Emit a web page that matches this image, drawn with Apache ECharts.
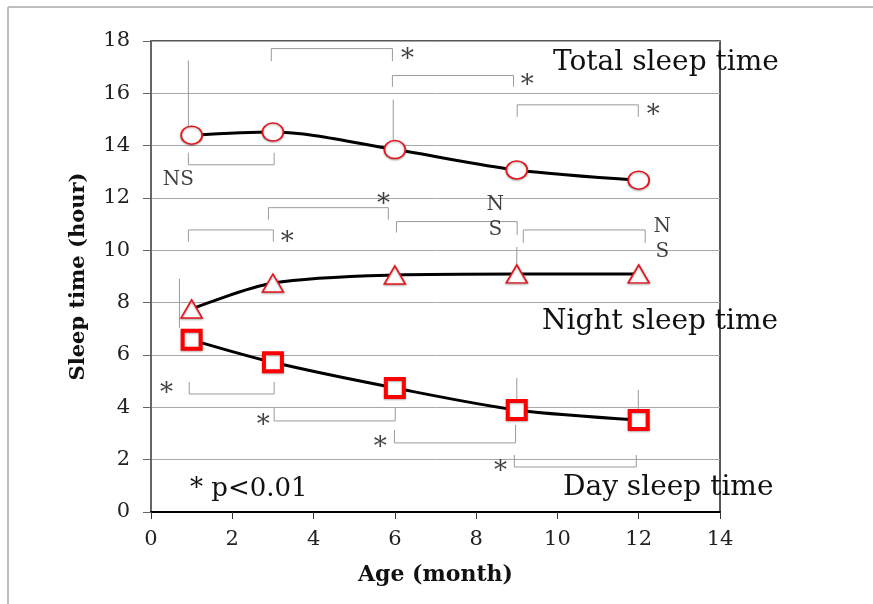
<!DOCTYPE html>
<html>
<head>
<meta charset="utf-8">
<title>Sleep time</title>
<script src="https://cdn.jsdelivr.net/npm/echarts@6/dist/echarts.min.js"></script>
<style>
* { margin:0; padding:0; }
body { background:#fff; }
#main { width:873px; height:604px; }
</style>
</head>
<body>
<div id="main"></div>
<script>
// ages (month) and mean sleep times (hour)
var ages = [1, 3, 6, 9, 12];
var totalSleep = [14.4, 14.52, 13.85, 13.07, 12.68];
var nightSleep = [7.76, 8.75, 9.06, 9.1, 9.1];
var daySleep = [6.58, 5.72, 4.74, 3.9, 3.52];

// significance brackets: [x1, x2, yBar, yEnd1, yEnd2]
var brackets = [
    [0.92, 3.03, 13.27, 13.73, 13.73],
    [2.96, 5.94, 17.71, 17.23, 17.23],
    [5.94, 8.92, 16.68, 16.25, 16.25],
    [9.01, 11.99, 15.56, 15.1, 15.1],
    [0.92, 3.01, 10.78, 10.33, 10.33],
    [2.89, 5.84, 11.63, 11.17, 11.17],
    [6.04, 9.01, 11.1, 10.68, 10.6],
    [9.16, 12.16, 10.78, 10.29, 10.29],
    [0.94, 3.03, 4.51, 4.97, 4.97],
    [3.03, 6.01, 3.48, 3.98, 3.98],
    [5.99, 8.97, 2.64, 3.14, 3.33],
    [8.94, 11.94, 1.72, 2.18, 2.18]
];
// single vertical guide lines: [x, yTop, yBottom]
var guides = [
    [0.92, 17.25, 14.57],
    [5.96, 15.76, 14.23],
    [9.0, 10.13, 9.45],
    [0.7, 8.91, 7.04],
    [9.0, 5.12, 4.28],
    [11.99, 4.67, 3.9]
];
// significance marks: [x, y, text]
var marks = [
    [0.67, 12.7, 'NS'],
    [6.31, 17.55, '*'],
    [9.26, 16.52, '*'],
    [12.36, 15.41, '*'],
    [5.72, 12.0, '*'],
    [3.35, 10.55, '*'],
    [8.47, 11.74, 'N'],
    [8.47, 10.78, 'S'],
    [12.58, 10.9, 'N'],
    [12.58, 9.94, 'S'],
    [0.38, 4.78, '*'],
    [2.76, 3.56, '*'],
    [5.64, 2.72, '*'],
    [8.6, 1.8, '*']
];

var serif = '"DejaVu Serif", "Liberation Serif", serif';
var red = '#e8141c';

function pairs(ys) {
    return ages.map(function (a, i) { return [a, ys[i]]; });
}

var series = [];

brackets.forEach(function (b) {
    series.push({
        type: 'line', symbol: 'none', silent: true, z: 1,
        lineStyle: { color: '#9a9a9a', width: 1 },
        data: [[b[0], b[3]], [b[0], b[2]], [b[1], b[2]], [b[1], b[4]]]
    });
});
guides.forEach(function (g) {
    series.push({
        type: 'line', symbol: 'none', silent: true, z: 1,
        lineStyle: { color: '#9a9a9a', width: 1 },
        data: [[g[0], g[1]], [g[0], g[2]]]
    });
});

var markerStyle = { color: '#fff', borderColor: red, borderWidth: 1.6,
    shadowColor: 'rgba(0,0,0,0.3)', shadowBlur: 2, shadowOffsetY: 1 };

series.push({
    name: 'Total sleep time', type: 'line', smooth: 0.3, z: 3,
    symbol: 'circle', symbolSize: [21, 18],
    lineStyle: { color: '#000', width: 3 },
    itemStyle: markerStyle,
    data: pairs(totalSleep)
});
series.push({
    name: 'Night sleep time', type: 'line', smooth: 0.3, z: 3,
    symbol: 'triangle', symbolSize: [21, 18],
    lineStyle: { color: '#000', width: 3 },
    itemStyle: markerStyle,
    data: pairs(nightSleep)
});
series.push({
    name: 'Day sleep time', type: 'line', smooth: 0.3, z: 3,
    symbol: 'rect', symbolSize: 18,
    lineStyle: { color: '#000', width: 3 },
    itemStyle: { color: '#fff', borderColor: '#ff0000', borderWidth: 4,
        shadowColor: 'rgba(0,0,0,0.3)', shadowBlur: 2, shadowOffsetY: 1 },
    data: pairs(daySleep)
});
series.push({
    type: 'scatter', symbolSize: 0, silent: true, z: 4,
    label: {
        show: true, position: 'inside', formatter: '{b}',
        fontFamily: serif, fontSize: 20, color: '#111'
    },
    data: marks.map(function (m) {
        var item = { name: m[2], value: [m[0], m[1]] };
        if (m[2] === '*') {
            item.label = { fontSize: 26, offset: [0, 7] };
        }
        return item;
    })
});

var chart = echarts.init(document.getElementById('main'));
chart.setOption({
    animation: false,
    backgroundColor: '#fff',
    grid: { left: 151, right: 153, top: 41, bottom: 92, show: true,
        borderColor: '#222', borderWidth: 1.5 },
    xAxis: {
        type: 'value', min: 0, max: 14, interval: 2,
        name: 'Age (month)', nameLocation: 'middle', nameGap: 52,
        nameTextStyle: { fontFamily: serif, fontSize: 22, fontWeight: 'bold', color: '#111' },
        axisLine: { lineStyle: { color: '#000', width: 2 } },
        axisTick: { show: true, length: 7, lineStyle: { color: '#333' } },
        axisLabel: { fontFamily: serif, fontSize: 21, color: '#222', margin: 17 },
        splitLine: { show: false }
    },
    yAxis: {
        type: 'value', min: 0, max: 18, interval: 2,
        name: 'Sleep time (hour)', nameLocation: 'middle', nameGap: 62,
        nameTextStyle: { fontFamily: serif, fontSize: 21, fontWeight: 'bold', color: '#111' },
        axisLine: { show: true, lineStyle: { color: '#666', width: 2 } },
        axisTick: { show: true, length: 8, lineStyle: { color: '#666' } },
        axisLabel: { fontFamily: serif, fontSize: 21, color: '#222', margin: 21 },
        splitLine: { show: true, lineStyle: { color: '#a8a8a8', width: 1 } }
    },
    graphic: [
        { type: 'line', shape: { x1: 8, y1: 7, x2: 873, y2: 7 }, style: { stroke: '#aaa', lineWidth: 1.5 } },
        { type: 'line', shape: { x1: 8, y1: 7, x2: 8, y2: 604 }, style: { stroke: '#aaa', lineWidth: 1.5 } },
        { type: 'text', left: 553, top: 49, z: 10, style: { text: 'Total sleep time', font: '28px ' + serif, fill: '#111' } },
        { type: 'text', left: 542, top: 308, z: 10, style: { text: 'Night sleep time', font: '28px ' + serif, fill: '#111' } },
        { type: 'text', left: 563, top: 474, z: 10, style: { text: 'Day sleep time', font: '28px ' + serif, fill: '#111' } },
        { type: 'text', left: 190, top: 476, z: 10, style: { text: '* p<0.01', font: '26px ' + serif, fill: '#111' } }
    ],
    series: series
});
</script>
</body>
</html>
